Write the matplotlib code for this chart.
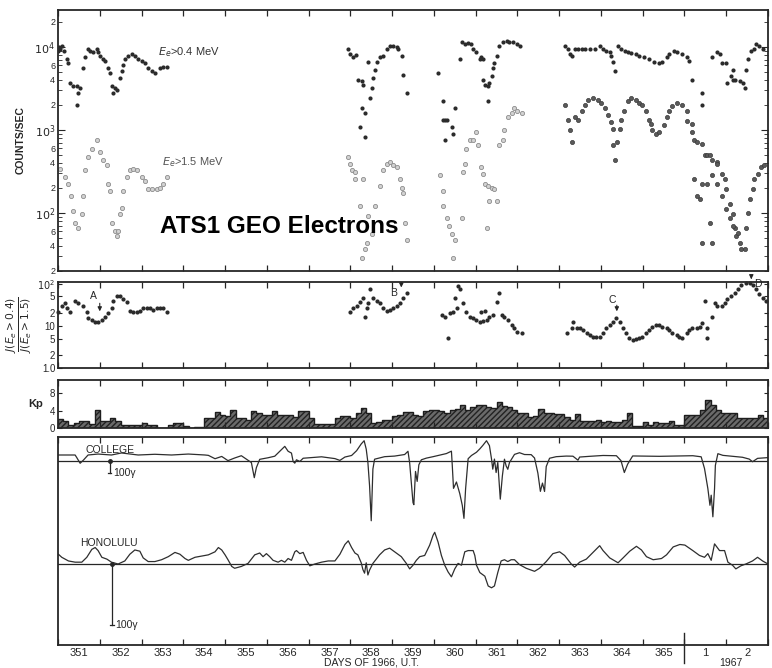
import numpy as np
import matplotlib
matplotlib.use('Agg')
import matplotlib.pyplot as plt
import matplotlib.transforms as mtransforms
from matplotlib.ticker import FixedLocator, FixedFormatter, FuncFormatter, NullFormatter

plt.rcParams['font.family'] = ['Liberation Sans', 'DejaVu Sans']
plt.rcParams['mathtext.fontset'] = 'dejavusans'
INK = '#262626'

# ---- ATS-1 electron counts (day of 1966 as continuous number, counts/sec)
e04_day = [351.00, 351.02, 351.05, 351.10, 351.15, 351.22, 351.24, 351.29, 351.36, 351.45, 351.48, 351.45,
           351.53, 351.60, 351.65, 351.72, 351.77, 351.84, 351.93, 351.96, 352.00, 352.08, 352.12, 352.20,
           352.24, 352.29, 352.32, 352.36, 352.41, 352.48, 352.53, 352.56, 352.60, 352.67, 352.77, 352.84,
           352.91, 353.01, 353.08, 353.15, 353.25, 353.32, 353.44, 353.51, 353.61,
           357.94, 357.99, 358.06, 358.13, 358.18, 358.27, 358.30, 358.27, 358.34, 358.22, 358.34,
           358.42, 358.46, 358.51, 358.54, 358.58, 358.63, 358.70, 358.78, 358.87, 358.94, 359.01, 359.11,
           359.13, 359.23, 359.25, 359.35,
           360.09, 360.21, 360.21, 360.26, 360.31, 360.43, 360.45, 360.26, 360.50, 360.62, 360.67, 360.74,
           360.81, 360.90, 360.93, 361.02, 361.10, 361.12, 361.17, 361.17, 361.22, 361.29, 361.33, 361.38,
           361.41, 361.45, 361.50, 361.29, 361.57, 361.65, 361.74, 361.81, 361.89, 361.98, 362.05,
           363.13, 363.20, 363.25, 363.30, 363.37, 363.45, 363.54, 363.63, 363.73, 363.85, 363.97, 364.05,
           364.13, 364.21, 364.25, 364.28, 364.33, 364.40, 364.49, 364.57, 364.64, 364.73, 364.85, 364.92,
           365.04, 365.16, 365.28, 365.40, 365.47, 365.57, 365.64, 365.76, 365.83, 365.95, 366.05, 366.12,
           366.17, 366.41, 366.41, 366.67, 366.77, 366.84, 366.91, 367.00, 367.03, 367.12, 367.15, 367.15,
           367.22, 367.32, 367.39, 367.44, 367.48, 367.51, 367.60, 367.67, 367.72, 367.79, 367.87]
e04_cts = [9000, 10000, 9470, 10280, 8970, 7220, 6290, 3650, 3360, 3360, 2780, 2000,
           3190, 5490, 7620, 9470, 8970, 8730, 9470, 8730, 7830, 7220, 6830, 5490,
           4790, 3360, 2780, 3190, 3020, 4180, 5060, 5960, 7220, 7830, 8270, 7830,
           7220, 6830, 6290, 5490, 5060, 4790, 5490, 5640, 5640,
           9470, 8270, 7620, 7900, 3960, 3860, 3460, 1850, 1610, 1070, 815,
           6640, 2430, 3190, 4180, 5200, 6640, 7620, 7830, 9470, 10280, 10280, 10000,
           9470, 7830, 4540, 2780,
           4790, 2240, 1330, 1330, 1330, 1070, 900, 751, 1850, 7220, 11460, 10850,
           11100, 10850, 9470, 8730, 7220, 7620, 7220, 3960, 3460, 3360, 3650, 4420,
           5490, 6290, 7830, 2240, 10280, 11460, 11800, 11460, 11460, 10850, 10280,
           10280, 9470, 8270, 7700, 9470, 9400, 9470, 9400, 9470, 9300, 10280, 9470,
           8970, 8730, 7830, 6640, 5060, 10280, 9470, 9000, 8730, 8500, 8270, 7830,
           7620, 7220, 6640, 6290, 6640, 7620, 8270, 8970, 8730, 8270, 7620, 6830,
           3960, 2780, 2000, 7620, 8730, 8270, 6290, 6290, 3650, 4420, 3960, 5200,
           3960, 3860, 3650, 3190, 5200, 7220, 8970, 9470, 10850, 10280, 9470]

e15_day = [351.05, 351.17, 351.24, 351.31, 351.36, 351.41, 351.48, 351.57, 351.60, 351.65, 351.72, 351.81,
           351.93, 352.00, 352.08, 352.17, 352.20, 352.24, 352.29, 352.36, 352.41, 352.44, 352.48, 352.53,
           352.56, 352.65, 352.72, 352.79, 352.89, 353.01, 353.08, 353.15, 353.25, 353.37, 353.44, 353.51,
           353.61,
           357.94, 357.99, 358.03, 358.11, 358.11, 358.22, 358.30, 358.42, 358.39, 358.34, 358.27, 358.51,
           358.58, 358.70, 358.78, 358.87, 358.94, 359.01, 359.11, 359.18, 359.23, 359.25, 359.30, 359.35,
           360.14, 360.21, 360.21, 360.31, 360.35, 360.43, 360.50, 360.45, 360.67, 360.69, 360.74, 360.78,
           360.86, 360.93, 361.00, 361.05, 361.14, 361.17, 361.22, 361.29, 361.38, 361.45, 361.50, 361.33,
           361.26, 361.57, 361.65, 361.69, 361.77, 361.86, 361.93, 362.00, 362.10,
           363.13, 363.20, 363.25, 363.30, 363.37, 363.44, 363.54, 363.61, 363.68, 363.80, 363.92, 364.01,
           364.09, 364.16, 364.25, 364.28, 364.28, 364.33, 364.38, 364.45, 364.49, 364.56, 364.64, 364.73,
           364.85, 364.92, 364.99, 365.09, 365.16, 365.21, 365.23, 365.33, 365.40, 365.52, 365.57, 365.64,
           365.71, 365.81, 365.93, 366.05, 366.07, 366.17, 366.19, 366.24, 366.31, 366.41, 366.48, 366.55,
           366.62, 366.67, 366.77, 366.79, 366.89, 366.96, 367.00, 367.08, 367.15, 367.20, 367.24, 367.32,
           367.36, 367.44, 367.48, 367.51, 367.56, 367.63, 367.67, 367.75, 367.84, 367.91,
           366.24, 366.31, 366.36, 366.43, 366.55, 366.60, 366.65, 366.41, 366.67, 366.77, 366.89, 367.00,
           367.08, 367.15, 367.27]
e15_cts = [341, 274, 226, 159, 106, 76, 66, 97, 159, 332, 473, 588,
           751, 542, 436, 380, 226, 182, 76, 61, 53, 61, 97, 115,
           182, 274, 332, 341, 332, 274, 240, 192, 192, 192, 198, 226,
           274,
           473, 391, 332, 314, 259, 121, 259, 92, 44, 37, 29, 56,
           121, 209, 332, 391, 412, 380, 360, 259, 198, 173, 76, 47,
           290, 182, 121, 87, 70, 56, 47, 29, 87, 314, 391, 588,
           751, 751, 933, 656, 360, 297, 226, 209, 198, 192, 139, 139,
           65, 656, 751, 986, 1410, 1610, 1850, 1700, 1610,
           2000, 1330, 986, 711, 1410, 1330, 1700, 2000, 2300, 2430, 2300, 2110,
           1850, 1490, 1230, 1010, 656, 436, 711, 1010, 1330, 1700, 2240, 2430,
           2300, 2110, 2000, 1700, 1330, 1160, 986, 885, 933, 1130, 1410, 1700,
           1950, 2110, 2000, 1700, 1290, 1160, 933, 751, 711, 673, 499, 499,
           499, 436, 412, 391, 297, 253, 192, 128, 97, 65, 53, 43,
           37, 37, 65, 100, 147, 192, 253, 297, 360, 380,
           253, 159, 147, 226, 226, 76, 43, 43, 290, 226, 159, 111,
           87, 70, 58]

# ---- flux ratio J(>0.4)/J(>1.5)
ratio_day = [351.00, 351.10, 351.17, 351.22, 351.29, 351.41, 351.48, 351.60, 351.69, 351.72, 351.81, 351.89,
             351.96, 352.05, 352.12, 352.20, 352.29, 352.32, 352.41, 352.48, 352.56, 352.65, 352.72, 352.79,
             352.89, 352.96, 353.03, 353.13, 353.20, 353.27, 353.37, 353.44, 353.51, 353.61,
             357.99, 358.06, 358.15, 358.22, 358.30, 358.39, 358.34, 358.46, 358.42, 358.54, 358.63, 358.70,
             358.78, 358.87, 358.94, 359.01, 359.11, 359.18, 359.25, 359.35,
             360.19, 360.26, 360.38, 360.45, 360.33, 360.55, 360.50, 360.57, 360.62, 360.69, 360.78, 360.86,
             360.93, 361.02, 361.10, 361.17, 361.26, 361.14, 361.22, 361.33, 361.41, 361.50, 361.57, 361.62,
             361.69, 361.77, 361.86, 361.93, 362.00, 362.10,
             363.18, 363.30, 363.32, 363.42, 363.49, 363.56, 363.66, 363.73, 363.80, 363.89, 363.97, 364.04,
             364.13, 364.21, 364.28, 364.37, 364.45, 364.52, 364.61, 364.68, 364.76, 364.85, 364.92, 364.99,
             365.09, 365.16, 365.23, 365.33, 365.40, 365.47, 365.57, 365.64, 365.71, 365.81, 365.88, 365.95,
             366.05, 366.12, 366.19, 366.29, 366.36, 366.43, 366.48, 366.55, 366.55, 366.65, 366.72, 366.79,
             366.89, 366.96, 367.03, 367.12, 367.20, 367.27, 367.36, 367.48, 367.56, 367.63, 367.72, 367.79,
             367.87, 367.96]
ratio_val = [21, 30, 34, 26, 21, 40, 34, 30, 21, 15, 13.5, 12.1,
             12.1, 13.5, 16, 20, 27, 40, 52, 52, 44, 36, 23, 21,
             21, 22, 26, 27, 26, 24, 27, 26, 26, 21,
             21, 26, 30, 36, 47, 27, 16, 76, 34, 47, 40, 34,
             26, 23, 24, 27, 30, 34, 47, 61,
             18, 16, 20, 21, 5.1, 26, 47, 90, 76, 34, 21, 16,
             15, 13.5, 12.1, 12.8, 13.5, 21, 23, 16, 18, 36, 61, 18,
             16, 13.5, 10.3, 8.7, 7.0, 6.7,
             6.7, 8.7, 12.1, 8.7, 8.7, 7.8, 6.7, 6.0, 5.4, 5.4, 5.4, 6.7,
             8.7, 10.3, 12.1, 15, 12.1, 8.7, 6.7, 5.1, 4.6, 4.8, 5.1, 5.4,
             6.7, 7.8, 9.2, 10.3, 10.3, 9.2, 8.7, 7.8, 6.7, 6.0, 5.4, 5.1,
             6.7, 7.8, 8.7, 8.7, 9.2, 11.5, 40, 8.7, 5.1, 16, 34, 30,
             30, 34, 44, 52, 61, 76, 95, 102, 105, 95, 76, 58,
             47, 40]

# ---- three-hourly Kp, Dec 17 1966 (day 351) to Jan 2 1967
kp = [2.0, 1.5, 0.8, 1.1, 1.7, 1.5, 0.9, 4.2,
      1.5, 1.5, 2.3, 1.5, 0.6, 0.6, 0.6, 0.6,
      1.1, 0.6, 0.8, 0.0, 0.0, 0.6, 1.1, 1.1,
      0.4, 0.1, 0.3, 0.3, 2.3, 2.3, 3.7, 3.0,
      2.7, 4.2, 2.4, 2.4, 1.9, 3.8, 3.4, 2.9,
      2.9, 3.8, 2.9, 2.9, 3.0, 2.5, 3.8, 3.8,
      2.3, 0.9, 0.9, 0.9, 0.9, 2.3, 2.8, 2.8,
      2.3, 3.4, 4.6, 3.4, 1.1, 1.3, 1.8, 1.8,
      2.7, 3.0, 3.6, 3.6, 3.0, 2.7, 3.8, 4.2,
      4.2, 3.8, 3.4, 4.2, 4.4, 5.3, 4.2, 4.8,
      5.3, 5.3, 4.9, 4.6, 5.9, 5.1, 4.9, 4.2,
      3.4, 3.4, 2.5, 2.7, 4.4, 3.4, 3.4, 3.1,
      3.1, 2.5, 1.9, 3.1, 1.7, 1.5, 1.5, 1.9,
      1.4, 1.7, 1.4, 1.4, 1.9, 3.4, 0.4, 0.4,
      1.3, 0.8, 1.3, 1.1, 1.1, 1.7, 0.8, 0.8,
      2.9, 2.9, 2.9, 4.2, 6.5, 5.3, 4.2, 3.4,
      3.4, 3.5, 2.2, 2.2, 2.2, 2.2, 3.0, 2.4]

# ---- H-component magnetograms, deviation from base level in gammas
col_day = [351.01, 351.41, 351.45, 351.53, 351.61, 351.72, 351.96, 352.28, 352.52, 352.92, 353.32, 353.72,
           354.12, 354.52, 354.60, 354.76, 354.92, 355.07, 355.23, 355.39, 355.51, 355.63, 355.70, 355.75,
           355.83, 356.03, 356.19, 356.35, 356.43, 356.51, 356.59, 356.63, 356.67, 356.71, 356.79, 356.87,
           357.31, 357.63, 357.75, 357.87, 358.03, 358.15, 358.26, 358.33, 358.38, 358.42, 358.46, 358.50,
           358.54, 358.58, 358.82, 359.06, 359.30, 359.38, 359.42, 359.50, 359.52, 359.56, 359.60, 359.64,
           359.70, 359.82, 359.98, 360.14, 360.30, 360.42, 360.44, 360.47, 360.54, 360.62, 360.68, 360.72,
           360.76, 360.82, 360.90, 361.02, 361.10, 361.17, 361.26, 361.33, 361.38, 361.41, 361.45, 361.49,
           361.53, 361.59, 361.64, 361.69, 361.73, 361.77, 361.81, 361.93, 362.05, 362.17, 362.33, 362.41,
           362.49, 362.55, 362.60, 362.65, 362.69, 362.77, 362.93, 363.17, 363.33, 363.45, 363.49, 363.73,
           364.05, 364.37, 364.48, 364.56, 364.64, 364.76, 365.40, 366.20, 366.40, 366.48, 366.56, 366.61,
           366.64, 366.68, 366.72, 366.74, 366.80, 366.92, 367.39, 367.55, 367.63, 367.75, 367.99]
col_gam = [50, 50, 28, -19, 8, 50, 58, 50, 67, 50, 56, 50,
           58, 50, 47, 19, 38, 3, 25, 44, 15, -13, -139, -55,
           14, 27, 40, 95, 122, 81, 66, -4, -18, 10, -4, 23,
           35, 20, 5, 33, 46, 86, 142, 169, 99, -12, -206, -498,
           -67, 15, 36, 41, 54, 81, -16, -347, -364, -87, -170, -32,
           10, 24, 36, 49, 62, 82, -35, -228, -175, -272, -369, -478,
           -229, 19, 46, 73, 101, 129, 169, 128, 17, -68, 16, -96,
           -12, -318, -124, 15, -41, -69, -13, 55, 69, 54, 53, 25,
           -101, -253, -184, -254, -46, 23, 36, 41, 40, 7, 33, 39,
           46, 44, 3, -96, -26, 42, 39, 44, 35, -63, -230, -369,
           -285, -465, -230, -36, 61, 47, 31, 16, -6, 22, 28]

hon_day = [351.01, 351.09, 351.25, 351.41, 351.57, 351.69, 351.81, 351.89, 351.96, 352.05, 352.17, 352.28,
           352.44, 352.60, 352.72, 352.84, 352.96, 353.04, 353.16, 353.32, 353.48, 353.64, 353.80, 353.92,
           354.04, 354.12, 354.28, 354.44, 354.60, 354.76, 354.84, 354.92, 355.00, 355.07, 355.16, 355.23,
           355.39, 355.55, 355.71, 355.83, 355.91, 355.99, 356.07, 356.15, 356.27, 356.35, 356.43, 356.51,
           356.59, 356.67, 356.71, 356.79, 356.87, 356.95, 357.03, 357.15, 357.31, 357.47, 357.63, 357.75,
           357.87, 357.95, 358.03, 358.11, 358.18, 358.26, 358.30, 358.34, 358.38, 358.42, 358.46, 358.54,
           358.70, 358.82, 358.94, 359.06, 359.22, 359.34, 359.42, 359.50, 359.58, 359.66, 359.78, 359.90,
           359.98, 360.02, 360.10, 360.18, 360.26, 360.34, 360.42, 360.50, 360.58, 360.66, 360.74, 360.82,
           360.94, 360.98, 361.02, 361.10, 361.22, 361.30, 361.38, 361.45, 361.53, 361.61, 361.69, 361.77,
           361.85, 361.93, 362.05, 362.21, 362.41, 362.53, 362.69, 362.85, 363.01, 363.13, 363.29, 363.37,
           363.49, 363.65, 363.81, 363.97, 364.05, 364.21, 364.41, 364.53, 364.69, 364.85, 364.97, 365.09,
           365.25, 365.45, 365.57, 365.73, 365.89, 366.01, 366.20, 366.36, 366.48, 366.56, 366.64, 366.72,
           366.84, 366.96, 367.04, 367.15, 367.23, 367.35, 367.47, 367.63, 367.75, 367.87, 368.00]
hon_gam = [16, 11, 5, 3, 3, 11, 24, 27, 22, 11, 8, 3,
           0, 5, 16, 23, 21, 10, 4, 4, 7, 12, 19, 16,
           9, 6, 11, 13, 15, 20, 27, 23, 15, 7, -4, -7,
           -4, 1, 15, 18, 12, 17, 12, 6, 3, 6, 3, 9,
           6, 20, 22, 17, 19, 6, -3, 0, 3, 5, 5, 16,
           32, 38, 27, 18, 15, 2, -9, -15, 2, -18, -10, 1,
           15, 23, 26, 20, 12, 1, -8, -2, 6, 12, 14, 31,
           47, 52, 36, 14, -2, -13, -21, -8, 1, -2, 20, 22,
           22, 14, -2, -14, -20, -36, -39, -36, -14, 5, 7, 4,
           7, 7, -1, -7, -12, -7, 4, 17, 20, 14, 0, -5,
           3, 8, 19, 30, 22, 10, 2, 10, 21, 29, 23, 12,
           7, 9, 15, 28, 32, 31, 22, 14, 11, 17, 6, 33,
           22, 22, 3, -2, -8, -3, 0, 5, 11, 5, 0]

day_labels = ['351', '352', '353', '354', '355', '356', '357', '358', '359',
              '360', '361', '362', '363', '364', '365', '1', '2']

fig = plt.figure(figsize=(7.72, 6.68), dpi=100)
L, W = 58 / 772, 710 / 772
def box(top, bot):
    return [L, 1 - bot / 668, W, (bot - top) / 668]

ax1 = fig.add_axes(box(10, 271))
ax2 = fig.add_axes(box(282, 368))
ax3 = fig.add_axes(box(380, 428))
ax4 = fig.add_axes(box(437, 645))

for ax in (ax1, ax2, ax3, ax4):
    ax.set_xlim(351, 368)
    ax.xaxis.set_major_locator(FixedLocator(np.arange(351, 369)))
    ax.xaxis.set_major_formatter(NullFormatter())
    ax.tick_params(axis='x', which='major', direction='in', length=4, width=0.9,
                   top=True, bottom=True, color=INK)
    ax.tick_params(axis='y', which='both', direction='in', left=True, right=True,
                   color=INK, labelsize=7, labelcolor=INK, pad=2)
    for s in ax.spines.values():
        s.set_linewidth(1.3)
        s.set_color(INK)

# counts panel
d15 = np.array(e15_day)
c15 = np.array(e15_cts)
late = d15 > 362.5
ax1.scatter(d15[~late], c15[~late], s=9, facecolor='#d2d2d2', edgecolor='#8c8c8c', linewidth=0.6, zorder=2)
ax1.scatter(d15[late], c15[late], s=9, facecolor='#5a5a5a', edgecolor='#3a3a3a', linewidth=0.5, zorder=2)
ax1.scatter(e04_day, e04_cts, s=9, color='#2b2b2b', linewidth=0, zorder=3)
ax1.set_yscale('log')
ax1.set_ylim(20, 27700)
ax1.yaxis.set_major_locator(FixedLocator([1e2, 1e3, 1e4]))
ax1.yaxis.set_major_formatter(FixedFormatter([r'$10^2$', r'$10^3$', r'$10^4$']))
minor = [m * 10.0 ** k for k in (1, 2, 3, 4) for m in range(2, 10) if 20 <= m * 10.0 ** k <= 27000]
ax1.yaxis.set_minor_locator(FixedLocator(minor))
def mant(v, pos):
    m = int(round(v / 10 ** np.floor(np.log10(v) + 1e-9)))
    return str(m) if m in (2, 4, 6) else ''
ax1.yaxis.set_minor_formatter(FuncFormatter(mant))
ax1.tick_params(axis='y', which='major', length=5, labelsize=8)
ax1.tick_params(axis='y', which='minor', length=3, labelsize=6.5)
ax1.set_ylabel('COUNTS/SEC', fontsize=7.5, fontweight='bold', color=INK, labelpad=6)
ax1.text(353.39, 8700, r'$E_e$>0.4 MeV', fontsize=8, color='#333', va='center')
ax1.text(353.49, 410, r'$E_e$>1.5 MeV', fontsize=8, color='#555', va='center')
ax1.text(353.44, 68, 'ATS1 GEO Electrons', fontsize=17.5, fontweight='bold', color='black',
         va='center', family=['Liberation Sans', 'DejaVu Sans'])

# ratio panel
ax2.scatter(ratio_day, ratio_val, s=9, color='#2b2b2b', linewidth=0, zorder=3, clip_on=False)
ax2.set_yscale('log')
ax2.set_ylim(1.0, 110)
ax2.yaxis.set_major_locator(FixedLocator([1, 2, 5, 10, 20, 50, 100]))
ax2.yaxis.set_major_formatter(FixedFormatter(['1.0', '2', '5', '10', '2', '5', r'$10^2$']))
ax2.yaxis.set_minor_locator(FixedLocator([]))
ax2.tick_params(axis='y', which='major', length=3, labelsize=7)
ax2.set_ylabel(r'$\frac{J(E_e>0.4)}{J(E_e>1.5)}$', fontsize=11, color=INK, labelpad=2)
arw = dict(arrowstyle='-|>', color=INK, lw=0.8, mutation_scale=6)
ax2.annotate('', xy=(352.0, 19), xytext=(352.0, 40), arrowprops=arw)
ax2.text(351.84, 52, 'A', fontsize=7.5, color=INK, ha='center', va='center')
ax2.annotate('', xy=(359.22, 70), xytext=(359.22, 125), arrowprops=arw, annotation_clip=False)
ax2.text(359.04, 60, 'B', fontsize=7.5, color=INK, ha='center', va='center')
ax2.annotate('', xy=(364.38, 19), xytext=(364.38, 36), arrowprops=arw)
ax2.text(364.26, 42, 'C', fontsize=7.5, color=INK, ha='center', va='center')
ax2.annotate('', xy=(367.6, 110), xytext=(367.6, 170), arrowprops=arw, annotation_clip=False)
ax2.text(367.75, 100, 'D', fontsize=7.5, color=INK, ha='center', va='center')

# Kp panel
edges = 351 + np.arange(len(kp) + 1) / 8
ax3.stairs(kp, edges, fill=True, facecolor='#6a6a6a', edgecolor='#222222', hatch='//////', linewidth=0)
ax3.stairs(kp, edges, color='#1e1e1e', linewidth=1.0)
ax3.set_ylim(0, 11)
ax3.set_yticks([0, 4, 8])
ax3.set_yticklabels(['0', '4', '8'])
ax3.tick_params(axis='y', length=3, labelsize=7)
ax3.set_ylabel('Kp', fontsize=8, fontweight='bold', color=INK, rotation=0, labelpad=10, va='center')

# magnetograms, stacked: each trace drawn about its own base level
col_base, col_scale = 184, 0.12
hon_base, hon_scale = 81, 0.61
ax4.set_ylim(0, 208)
ax4.set_yticks([])
ax4.axhline(col_base, color=INK, lw=0.9)
ax4.axhline(hon_base, color=INK, lw=0.9)
ax4.plot(col_day, col_base + np.array(col_gam) * col_scale, color='#2e2e2e', lw=0.9)
ax4.plot(hon_day, hon_base + np.array(hon_gam) * hon_scale, color='#2e2e2e', lw=0.9)
for base, sc, d in ((col_base, col_scale, 352.24), (hon_base, hon_scale, 352.29)):
    ax4.plot([d, d], [base, base - 100 * sc], color=INK, lw=0.9)
    ax4.plot([d], [base], marker='o', ms=2.5, color=INK)
    ax4.plot([d - 0.04, d + 0.04], [base - 100 * sc] * 2, color=INK, lw=0.9)
    ax4.text(d + 0.08, base - 100 * sc, '100γ', fontsize=7.5, color=INK, va='center')
ax4.text(351.65, 195, 'COLLEGE', fontsize=7.5, color=INK, va='center')
ax4.text(351.52, 102, 'HONOLULU', fontsize=7.5, color=INK, va='center')

ax4.set_xticks(np.arange(351.5, 368, 1), minor=True)
ax4.set_xticklabels(day_labels, minor=True)
ax4.tick_params(axis='x', which='minor', length=0, labelsize=8, pad=2, labelcolor=INK)
trans = mtransforms.blended_transform_factory(ax4.transData, ax4.transAxes)
ax4.plot([366, 366], [0.06, -0.085], transform=trans, color=INK, lw=1.0, clip_on=False)
ax4.text(367.12, -0.085, '1967', transform=trans, fontsize=7.5, color=INK, ha='center', va='center')
ax4.text(358.5, -0.085, 'DAYS OF 1966, U.T.', transform=trans, fontsize=7.5, color=INK,
         ha='center', va='center')

fig.savefig('out.png', dpi=100, facecolor='white')
